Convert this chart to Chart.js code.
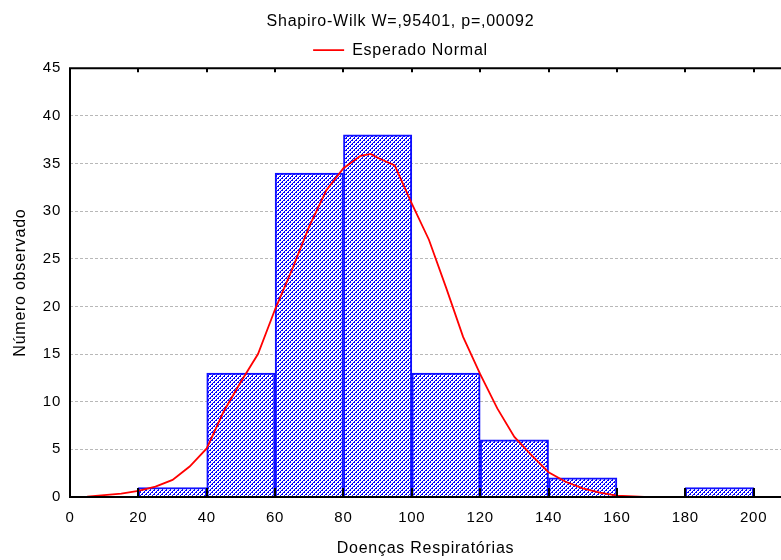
<!DOCTYPE html>
<html><head><meta charset="utf-8">
<script src="https://cdn.jsdelivr.net/npm/chart.js@4/dist/chart.umd.min.js"></script>
<style>html,body{margin:0;padding:0;background:#fff}#wrap{width:781px;height:560px}</style>
</head><body><div id="wrap"><canvas id="c" width="781" height="560"></canvas></div>
<script>
// ---- data ----
const titleText = 'Shapiro-Wilk W=,95401, p=,00092';
const legendText = 'Esperado Normal';
const xAxisTitle = 'Doenças Respiratórias';
const yAxisTitle = 'Número observado';
const binCenters = [30, 50, 70, 90, 110, 130, 150, 170, 190];
const binCounts  = [1, 13, 34, 38, 13, 6, 2, 0, 1];
const xTickValues = [0, 20, 40, 60, 80, 100, 120, 140, 160, 180, 200];
const yTickValues = [0, 5, 10, 15, 20, 25, 30, 35, 40, 45];
const curveX = [5,10,15,20,25,30,35,40,45,50,55,60,65,70,75,80,85,88,90,95,100,105,110,115,120,125,130,135,140,145,150,155,160,165,168];
const curveY = [0.05,0.2,0.35,0.65,1.1,1.8,3.2,5.1,9.0,12.1,15.0,19.7,23.9,28.4,32.2,34.5,35.8,36.0,35.6,34.8,30.8,27.0,22.0,16.8,12.9,9.3,6.3,4.4,2.6,1.6,0.9,0.45,0.15,0.05,0.0];

const FONT = "'Liberation Sans', Arial, sans-serif";
const LS = '0.75px';

function makePattern() {
  const t = document.createElement('canvas');
  t.width = 8; t.height = 8;
  const g = t.getContext('2d');
  g.fillStyle = '#ffffff'; g.fillRect(0, 0, 8, 8);
  g.fillStyle = '#0000ff';
  for (let y = 0; y < 8; y++) for (let x = 0; x < 8; x++) {
    const d = (x + y) % 4;
    if (d === 3 || (d === 0 && x % 2 === 0)) g.fillRect(x, y, 1, 1);
  }
  return document.getElementById('c').getContext('2d').createPattern(t, 'repeat');
}

const spacingPlugin = {
  id: 'spacing',
  beforeUpdate(chart) { chart.ctx.letterSpacing = LS; },
  beforeLayout(chart) { chart.ctx.letterSpacing = LS; },
  beforeDraw(chart) { chart.ctx.letterSpacing = LS; }
};

const framePlugin = {
  id: 'frame',
  afterDatasetsDraw(chart) {
    const {ctx, chartArea: a, scales: {x}} = chart;
    ctx.save();
    ctx.strokeStyle = '#000';
    ctx.lineWidth = 2;
    ctx.beginPath();
    ctx.moveTo(a.left, a.top); ctx.lineTo(a.right, a.top);
    ctx.moveTo(a.left, a.top - 1); ctx.lineTo(a.left, a.bottom + 1);
    ctx.moveTo(a.left, a.bottom); ctx.lineTo(a.right, a.bottom);
    ctx.stroke();
    ctx.beginPath();
    xTickValues.forEach(v => {
      const px = Math.round(x.getPixelForValue(v));
      ctx.moveTo(px, a.bottom); ctx.lineTo(px, a.bottom - 9);
      ctx.moveTo(px, a.top); ctx.lineTo(px, a.top + 4);
    });
    ctx.stroke();
    ctx.restore();
  }
};

const hatch = makePattern();

new Chart(document.getElementById('c'), {
  type: 'bar',
  data: {
    datasets: [
      {
        type: 'line',
        label: legendText,
        data: curveX.map((v, i) => ({x: v, y: curveY[i]})),
        borderColor: '#ff0000',
        backgroundColor: '#ff0000',
        borderWidth: 1.8,
        pointRadius: 0,
        tension: 0,
        order: 0
      },
      {
        type: 'bar',
        label: 'hist',
        data: binCenters.map((v, i) => ({x: v, y: binCounts[i]})),
        backgroundColor: hatch,
        borderColor: '#1010ff',
        borderWidth: 2,
        barPercentage: 1,
        categoryPercentage: 1,
        order: 1
      }
    ]
  },
  options: {
    responsive: false,
    devicePixelRatio: 1,
    animation: false,
    layout: {padding: {left: 20, right: 0, top: 1, bottom: 0}},
    plugins: {
      tooltip: {enabled: false},
      title: {
        display: true,
        text: titleText,
        color: '#000',
        font: {family: FONT, size: 16, weight: 'normal'},
        padding: {top: 11, bottom: 3}
      },
      legend: {
        display: true,
        labels: {
          filter: item => item.datasetIndex === 0,
          usePointStyle: true,
          pointStyle: 'line',
          pointStyleWidth: 31,
          color: '#000',
          font: {family: FONT, size: 16},
          padding: 8
        }
      }
    },
    scales: {
      x: {
        type: 'linear',
        min: 0,
        max: 208,
        offset: false,
        afterBuildTicks: s => { s.ticks = xTickValues.map(v => ({value: v})); },
        afterFit: s => { s.height = 63; },
        grid: {display: false, drawTicks: false},
        border: {display: false},
        ticks: {
          color: '#000',
          font: {family: FONT, size: 15},
          padding: 12,
          maxRotation: 0,
          autoSkip: false
        },
        title: {
          display: true,
          text: xAxisTitle,
          color: '#000',
          font: {family: FONT, size: 16},
          padding: {top: 0, bottom: 2}
        }
      },
      y: {
        min: 0,
        max: 45,
        afterBuildTicks: s => { s.ticks = yTickValues.map(v => ({value: v})); },
        afterFit: s => { s.width = 50; },
        grid: {
          color: '#b8b8b8',
          lineWidth: 1,
          drawTicks: false
        },
        border: {display: false, dash: [3, 2]},
        ticks: {
          color: '#000',
          font: {family: FONT, size: 15},
          padding: 9
        },
        title: {
          display: true,
          text: yAxisTitle,
          color: '#000',
          font: {family: FONT, size: 16},
          padding: {top: -9, bottom: 0}
        }
      }
    }
  },
  plugins: [spacingPlugin, framePlugin]
});
</script></body></html>
